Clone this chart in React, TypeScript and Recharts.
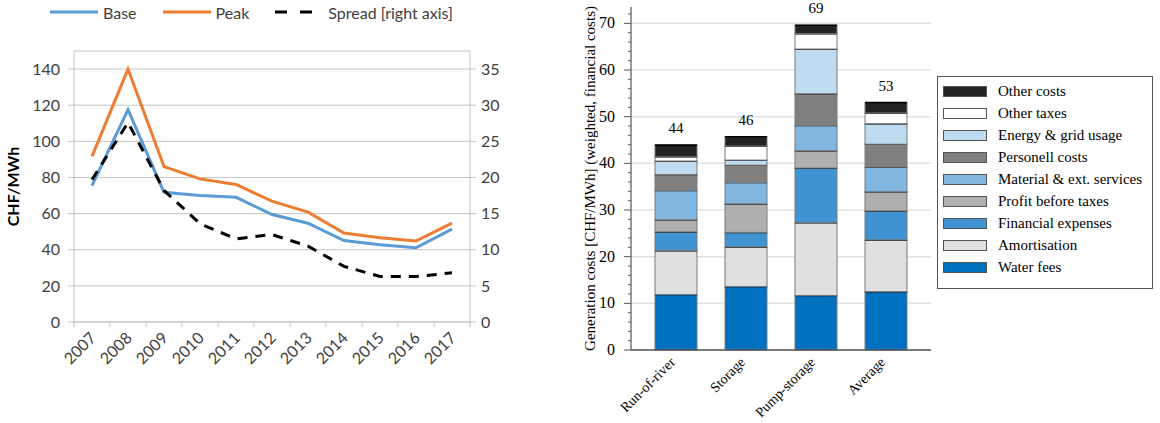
import React from "react"
import { LineChart, Line, XAxis, YAxis, CartesianGrid, Legend, BarChart, Bar, LabelList, Label } from "recharts"

// left panel: wholesale prices
const years = ["2007", "2008", "2009", "2010", "2011", "2012", "2013", "2014", "2015", "2016", "2017"]
const basePrice = [75.5, 117.5, 71.8, 70, 69, 59.5, 54.7, 45.1, 42.8, 41.1, 51.4]
const peakPrice = [91.7, 140, 86, 79.2, 76.1, 66.9, 60.8, 49.2, 46.6, 44.8, 54.7]
const spreadPrice = [19.7, 27.6, 18.2, 13.6, 11.5, 12.1, 10.5, 7.7, 6.3, 6.3, 6.8]
const priceTicks = [0, 20, 40, 60, 80, 100, 120, 140]
const spreadTicks = [0, 5, 10, 15, 20, 25, 30, 35]

// right panel: generation costs by plant type
const plantTypes = ["Run-of-river", "Storage", "Pump-storage", "Average"]
const waterFees = [11.9, 13.6, 11.7, 12.5]
const amortisation = [9.4, 8.5, 15.6, 11.1]
const financialExpenses = [4.0, 3.1, 11.7, 6.2]
const profitBeforeTaxes = [2.6, 6.1, 3.7, 4.1]
const materialServices = [6.3, 4.6, 5.4, 5.3]
const personellCosts = [3.4, 3.7, 6.8, 4.9]
const energyGrid = [2.9, 1.1, 9.6, 4.4]
const otherTaxes = [0.9, 3.0, 3.3, 2.3]
const otherCosts = [2.5, 2.0, 1.8, 2.2]
const totalCosts = [44, 46, 69, 53]
const costTicks = [0, 2, 4, 6, 8, 10, 12, 14, 16, 18, 20, 22, 24, 26, 28, 30, 32, 34, 36, 38, 40, 42, 44, 46, 48, 50, 52, 54, 56, 58, 60, 62, 64, 66, 68, 70, 72]
const costGrid = [0, 10, 20, 30, 40, 50, 60, 70]

const costSeries = [
  { key: "water", name: "Water fees", color: "#0070C0", values: waterFees },
  { key: "amort", name: "Amortisation", color: "#E0E0E0", values: amortisation },
  { key: "financial", name: "Financial expenses", color: "#3F93D2", values: financialExpenses },
  { key: "profit", name: "Profit before taxes", color: "#AFAFAF", values: profitBeforeTaxes },
  { key: "material", name: "Material & ext. services", color: "#80B6E0", values: materialServices },
  { key: "personell", name: "Personell costs", color: "#808080", values: personellCosts },
  { key: "energy", name: "Energy & grid usage", color: "#BFDBF0", values: energyGrid },
  { key: "taxes", name: "Other taxes", color: "#FFFFFF", values: otherTaxes },
  { key: "other", name: "Other costs", color: "#222222", values: otherCosts },
]

const priceData = years.map((year, i) => ({ year, base: basePrice[i], peak: peakPrice[i], spread: spreadPrice[i] }))
const costData = plantTypes.map((plant, i) => {
  const row: Record<string, string | number> = { plant, total: totalCosts[i] }
  costSeries.forEach((s) => (row[s.key] = s.values[i]))
  return row
})

const SANS = "Lato, 'Open Sans', sans-serif"
const SERIF = "'Liberation Serif', 'DejaVu Serif', serif"
const GRID = "#c4c4c4"

function PriceLegend() {
  const items = [
    { label: "Base", color: "#5B9BD5", dash: undefined },
    { label: "Peak", color: "#ED7D31", dash: undefined },
    { label: "Spread [right axis]", color: "#000", dash: "12 13" },
  ]
  return (
    <div style={{ display: "flex", height: 24, alignItems: "center", fontFamily: SANS, fontSize: 16, color: "#404040" }}>
      {items.map((it) => (
        <div key={it.label} style={{ display: "flex", alignItems: "center", marginRight: 26 }}>
          <svg width={48} height={6} style={{ marginRight: 5 }}>
            <line x1={0} y1={3} x2={48} y2={3} stroke={it.color} strokeWidth={3} strokeDasharray={it.dash} />
          </svg>
          <span>{it.label}</span>
        </div>
      ))}
    </div>
  )
}

function YearTick(props: any) {
  const { x, y, payload, index, visibleTicksCount } = props
  const half = payload.offset || 18
  const axisY = y - 5
  return (
    <g>
      <line x1={x - half} y1={axisY} x2={x - half} y2={axisY + 5} stroke={GRID} />
      {index === visibleTicksCount - 1 && <line x1={x + half} y1={axisY} x2={x + half} y2={axisY + 5} stroke={GRID} />}
      <text x={x + 5} y={axisY + 17} textAnchor="end" transform={`rotate(-45, ${x + 5}, ${axisY + 17})`} fontFamily={SANS} fontSize={16} fill="#404040">
        {payload.value}
      </text>
    </g>
  )
}

function PriceChart() {
  return (
    <LineChart width={500} height={423} data={priceData} margin={{ top: 27, right: 0, left: 0, bottom: 0 }}>
      <CartesianGrid yAxisId="left" vertical={false} stroke={GRID} />
      <XAxis dataKey="year" scale="band" height={101} tickSize={5} tickMargin={0} tickLine={false} axisLine={{ stroke: GRID }} tick={<YearTick />} interval={0} />
      <YAxis yAxisId="left" domain={[0, 150]} ticks={priceTicks} width={74} tickSize={6} tickMargin={8}
        axisLine={{ stroke: GRID }} tickLine={{ stroke: GRID }} tick={{ fill: "#404040", fontSize: 16, fontFamily: SANS }}>
        <Label content={(p: any) => {
          const cy = p.viewBox.y + p.viewBox.height / 2
          return <text x={19} y={cy} transform={`rotate(-90, 19, ${cy})`} textAnchor="middle" fontFamily={SANS} fontWeight="bold" fontSize={16} fill="#000">CHF/MWh</text>
        }} />
      </YAxis>
      <YAxis yAxisId="right" orientation="right" domain={[0, 37.5]} ticks={spreadTicks} width={30} tickSize={6} tickMargin={5}
        axisLine={{ stroke: GRID }} tickLine={{ stroke: GRID }} tick={{ fill: "#404040", fontSize: 16, fontFamily: SANS, textAnchor: "start" }} />
      <Legend verticalAlign="top" align="left" wrapperStyle={{ top: 0, left: 50 }} content={<PriceLegend />} />
      <Line yAxisId="left" dataKey="base" name="Base" stroke="#5B9BD5" strokeWidth={3} dot={false} isAnimationActive={false} />
      <Line yAxisId="left" dataKey="peak" name="Peak" stroke="#ED7D31" strokeWidth={3} dot={false} isAnimationActive={false} />
      <Line yAxisId="right" dataKey="spread" name="Spread [right axis]" stroke="#000" strokeWidth={3} strokeDasharray="10 8" dot={false} isAnimationActive={false} />
    </LineChart>
  )
}

function SegmentShape(props: any) {
  const { x, y, width, height, fill } = props
  if (!height) return null
  return (
    <g>
      <rect x={x} y={y} width={width} height={height} fill={fill} stroke="#7a7a7a" strokeWidth={1} />
      <line x1={x} x2={x + width} y1={y} y2={y} stroke="#000" strokeWidth={1.6} />
    </g>
  )
}

function CostTick(props: any) {
  const { x, y, payload } = props
  const v = payload.value
  const major = v % 10 === 0
  const axisX = x + 7 + 9
  return (
    <g>
      <line x1={axisX - (major ? 7 : 3)} y1={y} x2={axisX} y2={y} stroke="#555" />
      {major && (
        <text x={x} y={y + 5} textAnchor="end" fontFamily={SERIF} fontSize={16} fill="#000">{v}</text>
      )}
    </g>
  )
}

function PlantTick(props: any) {
  const { x, y, payload } = props
  const px = x
  const py = y + 11
  return (
    <text x={px} y={py} textAnchor="end" transform={`rotate(-45, ${px}, ${py})`} fontFamily={SERIF} fontSize={14} fill="#000">
      {payload.value}
    </text>
  )
}

function CostLegend() {
  const items = [...costSeries].reverse()
  return (
    <div style={{ width: 222, boxSizing: "border-box", paddingLeft: 6 }}>
      <div style={{ border: "1px solid #555", boxSizing: "border-box", height: 213, paddingTop: 4, background: "#fff" }}>
        {items.map((it) => (
          <div key={it.key} style={{ display: "flex", alignItems: "center", height: 21.9, fontFamily: SERIF, fontSize: 15, color: "#000" }}>
            <span style={{ display: "inline-block", boxSizing: "border-box", width: 44, height: 11, marginLeft: 5, marginRight: 11, background: it.color, border: "1px solid #555" }} />
            <span>{it.name}</span>
          </div>
        ))}
      </div>
    </div>
  )
}

function CostChart() {
  return (
    <BarChart width={600} height={423} data={costData} margin={{ top: 7, right: 7, left: 0, bottom: 0 }}>
      <CartesianGrid vertical={false} horizontalValues={costGrid} stroke="#e2e2e2" strokeWidth={1.5} />
      <XAxis dataKey="plant" height={73} padding={{ left: 10, right: 10 }} tickLine={false} tickSize={2} tickMargin={0}
        axisLine={{ stroke: "#555", strokeWidth: 1.5 }} tick={<PlantTick />} interval={0} />
      <YAxis domain={[0, 73.5]} ticks={costTicks} width={71} tickSize={7} tickMargin={9} tickLine={false} interval={0}
        axisLine={{ stroke: "#555", strokeWidth: 1.2 }} tick={<CostTick />}>
        <Label content={(p: any) => {
          const cy = p.viewBox.y + p.viewBox.height / 2
          return <text x={30} y={cy} transform={`rotate(-90, 30, ${cy})`} textAnchor="middle" dominantBaseline="central" fontFamily={SERIF} fontSize={15} fill="#000">Generation costs [CHF/MWh] (weighted, financial costs)</text>
        }} />
      </YAxis>
      <Legend layout="vertical" align="right" verticalAlign="top" width={222} wrapperStyle={{ top: 76, right: 7 }} content={<CostLegend />} />
      {costSeries.map((s, i) => (
        <Bar key={s.key} dataKey={s.key} name={s.name} stackId="cost" fill={s.color} barSize={42} shape={<SegmentShape />} isAnimationActive={false}>
          {i === costSeries.length - 1 && (
            <LabelList dataKey="total" position="top" offset={12} fontFamily={SERIF} fontSize={15} fill="#000" />
          )}
        </Bar>
      ))}
    </BarChart>
  )
}

export default function App() {
  return (
    <div style={{ position: "absolute", left: 0, top: 0, width: 1160, height: 423, background: "#fff" }}>
      <div style={{ position: "absolute", left: 0, top: 0 }}>
        <PriceChart />
      </div>
      <div style={{ position: "absolute", left: 560, top: 0 }}>
        <CostChart />
      </div>
    </div>
  )
}
